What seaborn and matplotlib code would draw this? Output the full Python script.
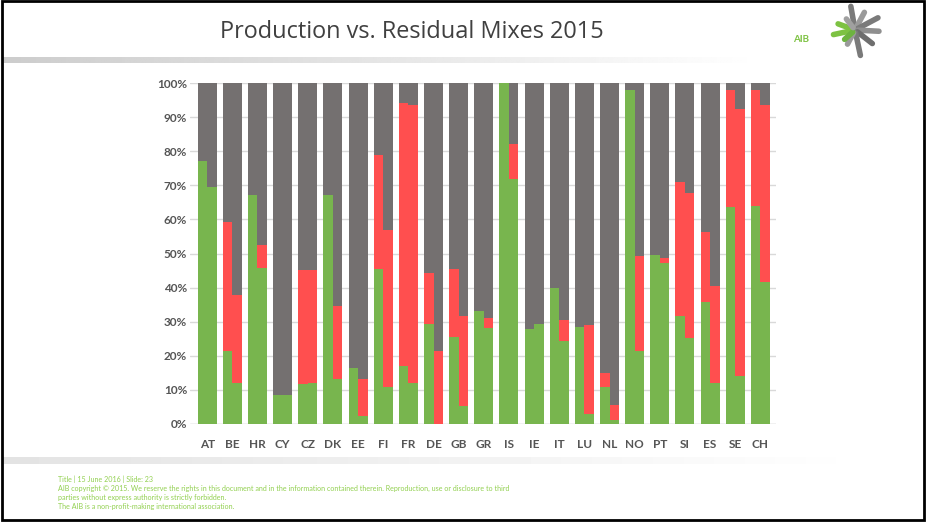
import numpy as np
import pandas as pd
import matplotlib
matplotlib.use("Agg")
import matplotlib.pyplot as plt
import seaborn as sns
from matplotlib.patches import Rectangle
from matplotlib.lines import Line2D

# datos (en %)
paises = ['AT', 'BE', 'HR', 'CY', 'CZ', 'DK', 'EE', 'FI', 'FR', 'DE', 'GB', 'GR',
          'IS', 'IE', 'IT', 'LU', 'NL', 'NO', 'PT', 'SI', 'ES', 'SE', 'CH']
prod_renovable = [77.2, 21.3, 67.2, 8.6, 11.6, 67.2, 16.5, 45.4, 16.9, 29.2, 25.5, 33.0,
                  100.0, 27.9, 39.8, 28.5, 10.9, 97.9, 49.6, 31.6, 35.7, 63.5, 63.8]
prod_nuclear = [0.0, 37.9, 0.0, 0.0, 33.5, 0.0, 0.0, 33.6, 77.2, 15.1, 20.0, 0.0,
                0.0, 0.0, 0.0, 0.0, 4.1, 0.0, 0.0, 39.3, 20.6, 34.4, 34.1]
res_renovable = [69.4, 12.0, 45.7, 8.6, 12.0, 13.2, 2.2, 10.9, 12.0, 0.0, 5.4, 28.2,
                 71.9, 29.2, 24.4, 3.0, 1.3, 21.3, 47.3, 25.2, 12.0, 14.0, 41.7]
res_nuclear = [0.0, 25.9, 6.8, 0.0, 33.1, 21.3, 11.0, 46.1, 81.5, 21.3, 26.2, 2.9,
               10.3, 0.0, 6.0, 25.9, 4.4, 27.9, 1.5, 42.6, 28.6, 78.4, 51.8]
mezclas = ['Production', 'Residual']

VERDE = '#78B54E'
ROJO = '#FF4F4F'
GRIS = '#747070'

filas = []
for i, p in enumerate(paises):
    filas.append({'pais': p, 'mezcla': mezclas[0], 'renovable': prod_renovable[i],
                  'nuclear': prod_nuclear[i]})
    filas.append({'pais': p, 'mezcla': mezclas[1], 'renovable': res_renovable[i],
                  'nuclear': res_nuclear[i]})
datos = pd.DataFrame(filas)
datos['acumulado'] = datos['renovable'] + datos['nuclear']
datos['total'] = 100.0

sns.set_style('white')
plt.rcParams['font.family'] = ['Lato', 'DejaVu Sans']

fig = plt.figure(figsize=(9.26, 5.22), dpi=100)
ax = fig.add_axes([190 / 926, 1 - 424 / 522, 586 / 926, 341 / 522])

for col, color in [('total', GRIS), ('acumulado', ROJO), ('renovable', VERDE)]:
    sns.barplot(data=datos, x='pais', y=col, hue='mezcla', hue_order=mezclas,
                order=paises, palette=[color, color], width=0.755, errorbar=None,
                legend=False, ax=ax, linewidth=0, saturation=1)

ax.set_xlim(-0.684, 22.62)
ax.set_ylim(0, 100)
ax.set_yticks(np.arange(0, 101, 10))
ax.set_yticklabels([f'{v}%' for v in range(0, 101, 10)])
ax.yaxis.grid(True, color='#D9D9D9', linewidth=1)
ax.set_axisbelow(True)
for s in ax.spines.values():
    s.set_visible(False)
ax.axhline(0, color='#D9D9D9', linewidth=1, zorder=0)
ax.tick_params(axis='x', length=0, labelsize=8.5, labelcolor='#555555', pad=11)
ax.tick_params(axis='y', length=0, labelsize=8.5, labelcolor='#555555', pad=2)
for t in ax.get_xticklabels() + ax.get_yticklabels():
    t.set_fontweight('bold')
ax.set_xlabel('')
ax.set_ylabel('')

# marco de la diapositiva
fondo = fig.add_axes([0, 0, 1, 1], zorder=-1)
fondo.set_xlim(0, 926)
fondo.set_ylim(522, 0)
fondo.axis('off')
fondo.imshow(np.linspace(0.80, 1.0, 256).reshape(1, -1), cmap='gray', vmin=0, vmax=1,
             extent=[2, 760, 63, 57], aspect='auto')
fondo.imshow(np.linspace(0.89, 1.0, 256).reshape(1, -1), cmap='gray', vmin=0, vmax=1,
             extent=[2, 870, 464, 457], aspect='auto')
fondo.add_patch(Rectangle((1.5, 1), 922.5, 518.5, fill=False, edgecolor='black', linewidth=2))

fig.text(412 / 926, 1 - 32 / 522, 'Production vs. Residual Mixes 2015', ha='center',
         va='center', fontsize=16.9, color='#404040', family=['Open Sans', 'DejaVu Sans'])

# logo AIB aproximado
fig.text(801 / 926, 1 - 39 / 522, 'AIB', ha='center', va='center', fontsize=7,
         color='#7DC242', fontweight='bold')
cx, cy = 855, 30
for ang, largo, color in [(100, 24, '#7A7A7A'), (62, 20, '#9A9A9A'), (28, 26, '#7A7A7A'),
                          (-3, 24, '#8F8F8F'), (-38, 22, '#6E6E6E'), (-78, 26, '#7A7A7A'),
                          (-118, 16, '#9A9A9A'), (192, 22, '#7DC242'), (160, 18, '#7DC242'),
                          (222, 14, '#6DB33F'), (128, 14, '#A0A0A0')]:
    a = np.deg2rad(ang)
    fondo.add_line(Line2D([cx + 3 * np.cos(a), cx + largo * np.cos(a)],
                          [cy - 3 * np.sin(a), cy - largo * np.sin(a)],
                          color=color, linewidth=4, solid_capstyle='round'))

pie = ['Title | 15 June 2016 | Slide: 23',
       'AIB copyright \u00a9 2015. We reserve the rights in this document and in the information contained therein. Reproduction, use or disclosure to third',
       'parties without express authority is strictly forbidden.',
       'The AIB is a non-profit-making international association.']
for i, linea in enumerate(pie):
    fig.text(58 / 926, 1 - (479 + 9.3 * i) / 522, linea, ha='left', va='center',
             fontsize=5.1, color='#92D050')

fig.savefig('out.png', dpi=100)
